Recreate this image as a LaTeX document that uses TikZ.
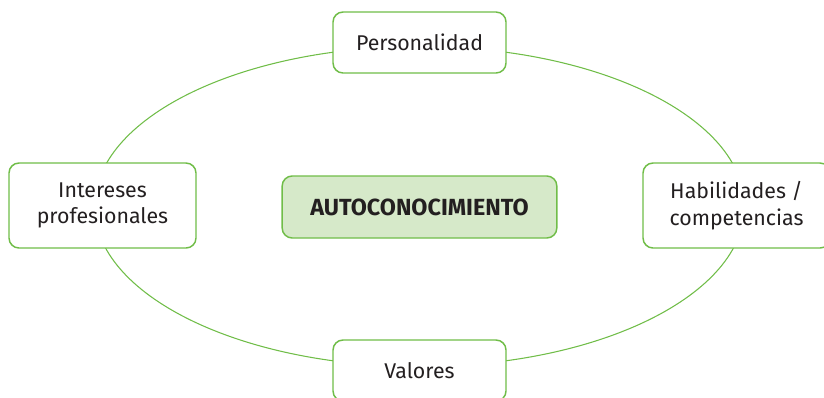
\documentclass[tikz,border=0pt]{standalone}
\usepackage{fontspec}
\setmainfont{Fira Sans}
\usepackage{tikz}
\usetikzlibrary{backgrounds}

\definecolor{ringgreen}{RGB}{112,189,72}
\definecolor{softgreen}{RGB}{214,233,201}
\definecolor{inkgray}{RGB}{35,31,32}

\tikzset{
  facet/.style={draw=ringgreen, line width=1.1pt, fill=white, rounded corners=7.5pt,
    align=center, text=inkgray, font=\fontsize{16}{20}\selectfont, inner sep=0pt},
  core/.style={facet, fill=softgreen, font=\fontsize{17.5}{21}\selectfont\bfseries},
  ring/.style={draw=ringgreen, line width=0.8pt}
}

\begin{document}
\begin{tikzpicture}[x=0.75pt,y=0.75pt,yscale=-1,xscale=1]
\useasboundingbox (0,0) rectangle (824,397);

% Central node
\node [core, minimum width=206pt, minimum height=46.5pt] (auto) at (419.5,207) {AUTOCONOCIMIENTO};

%Shape: Ellipse
\draw [ring] (419.5,206.5) ellipse [x radius=325, y radius=160];

% Text Node
\node [facet, minimum width=129.75pt, minimum height=45.75pt] (pers) at (419.5,42.5) {Personalidad};
% Text Node
\node [facet, minimum width=140.25pt, minimum height=63.75pt] (inter) at (102.5,205.5) {Intereses\\profesionales};
% Text Node
\node [facet, minimum width=140.25pt, minimum height=63.75pt] (habil) at (736.5,205.5) {Habilidades /\\competencias};
% Text Node
\node [facet, minimum width=129.75pt, minimum height=45.75pt] (valor) at (419.5,370.5) {Valores};

\end{tikzpicture}
\end{document}
